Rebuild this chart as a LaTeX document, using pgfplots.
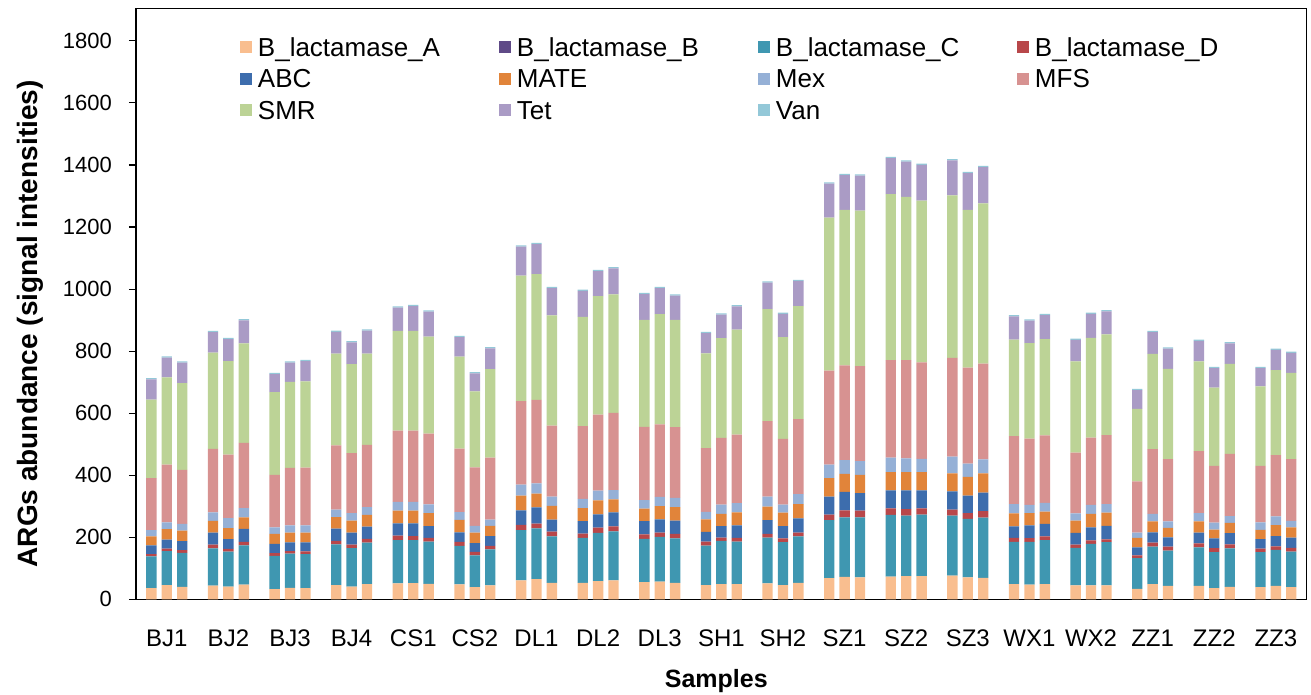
\documentclass[border=0pt]{standalone}
\usepackage{fontspec}
\setmainfont{Liberation Sans}
\usepackage{pgfplots}
\usepackage{pgfplotstable}
\pgfplotsset{compat=1.18}

\definecolor{cA}{HTML}{F9BE8F}
\definecolor{cB}{HTML}{5F4A87}
\definecolor{cC}{HTML}{3F97B1}
\definecolor{cD}{HTML}{B8474A}
\definecolor{cABC}{HTML}{3D6DAD}
\definecolor{cMATE}{HTML}{E1843A}
\definecolor{cMex}{HTML}{95B0D6}
\definecolor{cMFS}{HTML}{D79291}
\definecolor{cSMR}{HTML}{BCD396}
\definecolor{cTet}{HTML}{AA9BC5}
\definecolor{cVan}{HTML}{93C8D8}

% three replicates per site, placed at i-0.25, i, i+0.25
\pgfplotstableread{
x     A  B  C    D    ABC MATE Mex  MFS SMR Tet Van
-0.25 36 0  102  7.5  28  29   20.5 168 253 65  4
0     46 0  109  8.6  29  34   21.5 186 281 64  4
0.25  40 0  110  8.6  29  34   21.5 174 280 66  4
0.75  44 0  120  12   39  38   27   205 310 66  4
1     41 0  113  8.6  31  36   32   205 301 71  4
1.25  47 0  127  11   42  37   30   210 321 74  4
1.75  33 0  107  8.6  30  32   21.5 169 267 58  4
2     37 0  110  8.6  28  31   24   185 277 62  4
2.25  36 0  110  8.6  29  31   24   186 278 65  4
2.75  46 0  131  11   40  37   24   207 296 70  4
3     41 0  124  11   39  39   24   193 287 70  4
3.25  49 0  134  12   39  38   25   201 294 74  4
3.75  51 0  140  14   40  41   28   230 321 75  4
4     52 0  139  13   41  41   28   230 321 80  4
4.25  50 0  136  12   38  42   28   228 313 80  4
4.75  48 0  124  13   31  40   25   205 296 63  4
5     39 0  103  11   28  34   22   188 245 58  4
5.25  45 0  116  11   32  33   20   200 285 67  4
5.75  61 0  162  17   47  47   36   269 404 94  4
6     65 0  164  15   52  45   33   269 405 97  4
6.25  53 0  150  15   39  44   30   229 355 88  4
6.75  53 0  145  14   40  42   30   234 352 84  4
7     59 0  155  17   43  45   31   245 382 81  4
7.25  61 0  158  16   45  42   30   249 382 84  4
7.75  55 0  140  14   43  40   28   236 345 83  4
8     57 0  144  14   43  42   30   234 355 84  4
8.25  53 0  143  15   43  43   30   228 346 78  4
8.75  46 0  127  13   31  41   24   205 306 65  4
9     49 0  139  11   37  39   30   215 322 76  4
9.25  49 0  137  12   40  42   30   221 338 75  4
9.75  51 0  148  12   44  44   32   243 361 86  4
10    46 0  138  12   40  43   26   212 328 75  4
10.25 53 0  150  12   46  46   32   242 364 81  4
10.75 68 0  187  18   58  60   43   303 493 110 4
11    72 0  192  23   59  58   45   305 501 112 4
11.25 71 0  193  22   56  59   44   307 501 113 4
11.75 73 0  199  21   58  59   47   314 535 116 4
12    75 0  195  21   60  59   44   317 526 114 4
12.25 75 0  198  20   58  59   43   311 521 115 4
12.75 76 0  194  19   59  58   54   318 524 113 4
13    71 0  188  19   56  61   42   310 508 119 4
13.25 69 0  194  21   60  62   45   309 516 117 4
13.75 49 0  136  13   37  42   30   219 311 75  4
14    47 0  138  12   41  40   26   214 308 72  4
14.25 49 0  142  12   40  40   28   217 311 77  4
14.75 45 0  121  10   38  40   23   196 294 69  4
15    45 0  134  11   42  43   29   217 322 77  4
15.25 45 0  139  9    44  42   28   222 325 74  4
15.75 34 0  99   9    25  31   17   165 234 60  4
16    49 0  121  13   33  35   24   209 307 70  4
16.25 43 0  114  13   30  30   21   201 291 65  4
16.75 43 0  124  13   35  36   27   200 289 66  4
17    36 0  116  13   31  29   22   183 252 63  4
17.25 40 0  124  13   36  33   22   201 290 66  4
17.75 39 0  113  11   31  30   24   182 256 59  4
18    43 0  116  12   33  35   28   198 274 65  4
18.25 39 0  115  12   33  33   21   199 278 64  4
}\argdata

\begin{document}
\begin{tikzpicture}
\useasboundingbox (-136pt,-94.7pt) rectangle (1175pt,599.3pt);
\begin{axis}[
  at={(0pt,0pt)}, anchor=south west,
  scale only axis,
  width=1170.7pt, height=591pt,
  ybar stacked,
  bar width=0.168,
  xmin=-0.5, xmax=18.5,
  ymin=0, ymax=1905,
  axis line style={line width=1.1pt},
  xtick={0,...,18},
  xticklabels={BJ1,BJ2,BJ3,BJ4,CS1,CS2,DL1,DL2,DL3,SH1,SH2,SZ1,SZ2,SZ3,WX1,WX2,ZZ1,ZZ2,ZZ3},
  x tick style={draw=none},
  ytick={0,200,...,1800},
  ytick pos=left,
  tick align=outside,
  major tick length=7pt,
  y tick style={line width=1.1pt, black},
  /pgf/number format/assume math mode=true,
  /pgf/number format/1000 sep={},
  yticklabel style={font=\fontsize{22}{26}\selectfont, anchor=east, inner sep=0pt, xshift=-17pt},
  xticklabel style={font=\fontsize{24}{28}\selectfont, anchor=base, inner sep=0pt, yshift=-39.7pt},
  xlabel={Samples},
  ylabel={ARGs abundance (signal intensities)},
  xlabel style={font=\fontsize{25}{30}\selectfont\bfseries, at={(axis description cs:0.4957,-0.150)}, anchor=base},
  ylabel style={font=\fontsize{28}{32}\selectfont\bfseries, at={(axis description cs:-0.0905,0.466)}, anchor=center},
  legend columns=4,
  legend image code/.code={\fill[#1] (0pt,3.3pt) rectangle (12pt,15.3pt);},
  legend style={draw=none, fill=none, inner sep=0pt, outer sep=0pt,
    at={(axis description cs:0.0888,0.950)}, anchor=north west,
    row sep=9pt, column sep=0pt,
    font=\fontsize{26}{30}\selectfont,
    nodes={inner sep=0pt, inner xsep=6pt, text height=18.5pt, text depth=4pt, anchor=base west}},
]
\addplot[fill=cA, draw=none]    table[x=x, y=A]    {\argdata};
\addplot[fill=cB, draw=none]    table[x=x, y=B]    {\argdata};
\addplot[fill=cC, draw=none]    table[x=x, y=C]    {\argdata};
\addplot[fill=cD, draw=none]    table[x=x, y=D]    {\argdata};
\addplot[fill=cABC, draw=none]  table[x=x, y=ABC]  {\argdata};
\addplot[fill=cMATE, draw=none] table[x=x, y=MATE] {\argdata};
\addplot[fill=cMex, draw=none]  table[x=x, y=Mex]  {\argdata};
\addplot[fill=cMFS, draw=none]  table[x=x, y=MFS]  {\argdata};
\addplot[fill=cSMR, draw=none]  table[x=x, y=SMR]  {\argdata};
\addplot[fill=cTet, draw=none]  table[x=x, y=Tet]  {\argdata};
\addplot[fill=cVan, draw=none]  table[x=x, y=Van]  {\argdata};
\legend{\makebox[235pt][l]{B\_lactamase\_A}, \makebox[235pt][l]{B\_lactamase\_B},
  \makebox[235pt][l]{B\_lactamase\_C}, \makebox[235pt][l]{B\_lactamase\_D},
  \makebox[235pt][l]{ABC}, \makebox[235pt][l]{MATE}, \makebox[235pt][l]{Mex},
  \makebox[235pt][l]{MFS}, \makebox[235pt][l]{SMR}, \makebox[235pt][l]{Tet},
  \makebox[235pt][l]{Van}}
\end{axis}
\end{tikzpicture}
\end{document}
